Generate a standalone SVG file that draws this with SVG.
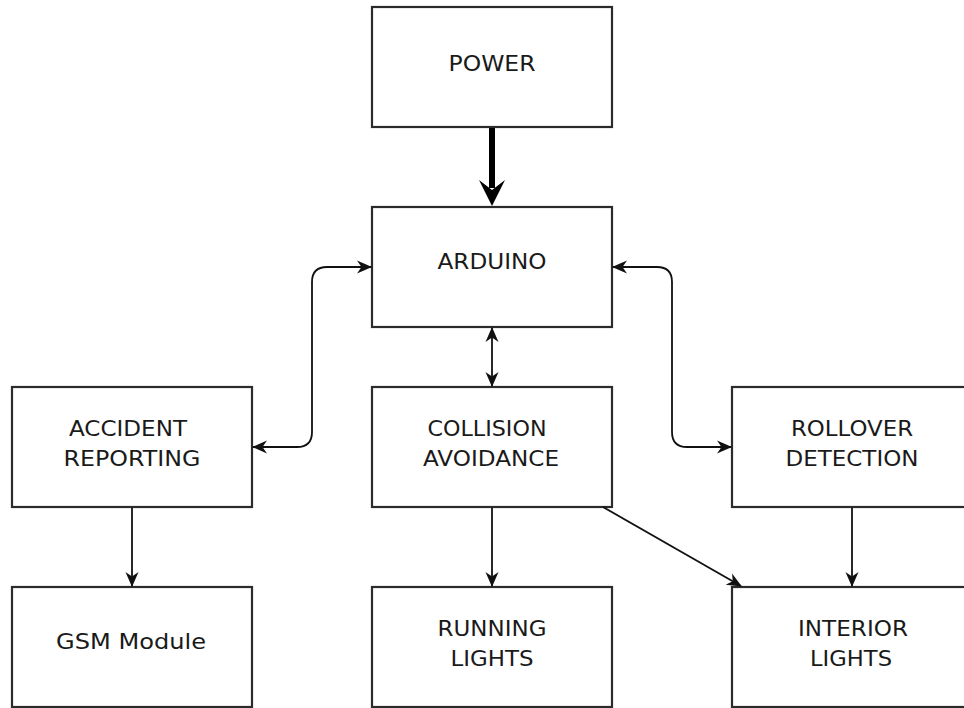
<svg xmlns="http://www.w3.org/2000/svg" width="964" height="708" viewBox="0 0 964 708">
<style>
.box{fill:#fff;stroke:#2b2b2b;stroke-width:2.2}
.t{font-family:"DejaVu Sans","Liberation Sans",sans-serif;font-size:21.5px;fill:#1a1a1a;text-anchor:middle}
.c{fill:none;stroke:#111;stroke-width:1.8}
</style>
<defs>
<marker id="ah" viewBox="0 0 15 15" refX="14" refY="7.5" markerWidth="15" markerHeight="15" markerUnits="userSpaceOnUse" orient="auto-start-reverse">
<path d="M0,1 L15,7.5 L0,14 L4.5,7.5 z" fill="#111"/>
</marker>
</defs>
<rect width="964" height="708" fill="#fff"/>
<g id="power"><rect class="box" x="372" y="7" width="240" height="120"/><text class="t" x="492" y="71" textLength="87" lengthAdjust="spacingAndGlyphs">POWER</text></g>
<g id="arduino"><rect class="box" x="372" y="207" width="240" height="120"/><text class="t" x="492" y="269" textLength="109" lengthAdjust="spacingAndGlyphs">ARDUINO</text></g>
<g id="accident"><rect class="box" x="12" y="387" width="240" height="120"/><text class="t" x="128" y="436" textLength="118" lengthAdjust="spacingAndGlyphs">ACCIDENT</text><text class="t" x="132" y="466" textLength="137" lengthAdjust="spacingAndGlyphs">REPORTING</text></g>
<g id="collision"><rect class="box" x="372" y="387" width="240" height="120"/><text class="t" x="487" y="436" textLength="119" lengthAdjust="spacingAndGlyphs">COLLISION</text><text class="t" x="491" y="466" textLength="136" lengthAdjust="spacingAndGlyphs">AVOIDANCE</text></g>
<g id="rollover"><rect class="box" x="732" y="387" width="240" height="120"/><text class="t" x="852" y="436" textLength="122" lengthAdjust="spacingAndGlyphs">ROLLOVER</text><text class="t" x="852" y="466" textLength="133" lengthAdjust="spacingAndGlyphs">DETECTION</text></g>
<g id="gsm"><rect class="box" x="12" y="587" width="240" height="120"/><text class="t" x="131" y="649" textLength="150" lengthAdjust="spacingAndGlyphs">GSM Module</text></g>
<g id="running"><rect class="box" x="372" y="587" width="240" height="120"/><text class="t" x="492" y="636" textLength="109" lengthAdjust="spacingAndGlyphs">RUNNING</text><text class="t" x="492" y="666" textLength="83" lengthAdjust="spacingAndGlyphs">LIGHTS</text></g>
<g id="interior"><rect class="box" x="732" y="587" width="240" height="120"/><text class="t" x="853" y="636" textLength="110" lengthAdjust="spacingAndGlyphs">INTERIOR</text><text class="t" x="851" y="666" textLength="82" lengthAdjust="spacingAndGlyphs">LIGHTS</text></g>
<g id="connectors">
<line x1="492" y1="128" x2="492" y2="188" stroke="#000" stroke-width="6"/>
<polygon points="492,206 479,180 492,190 505,180" fill="#000"/>
<path class="c" d="M253,447 L297,447 Q312,447 312,432 L312,282 Q312,267 327,267 L371,267" marker-start="url(#ah)" marker-end="url(#ah)"/>
<path class="c" d="M613,267 L657,267 Q672,267 672,282 L672,432 Q672,447 687,447 L731,447" marker-start="url(#ah)" marker-end="url(#ah)"/>
<path class="c" d="M492,328 L492,386" marker-start="url(#ah)" marker-end="url(#ah)"/>
<path class="c" d="M132,508 L132,586" marker-end="url(#ah)"/>
<path class="c" d="M492,508 L492,586" marker-end="url(#ah)"/>
<path class="c" d="M852,508 L852,586" marker-end="url(#ah)"/>
<path class="c" d="M603,507 L741,586" marker-end="url(#ah)"/>
</g>
</svg>
